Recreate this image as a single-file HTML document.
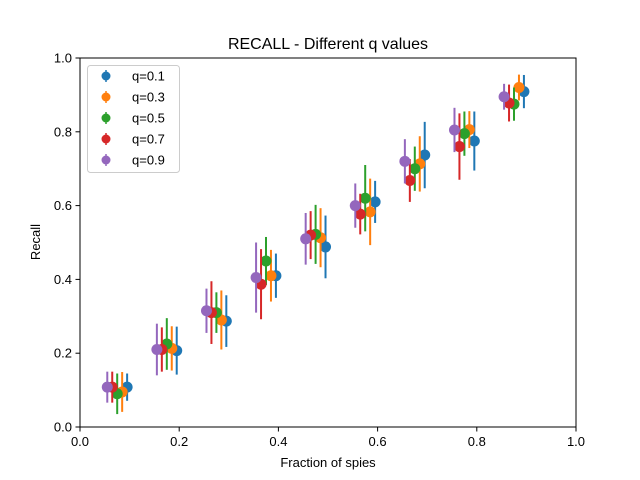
<!DOCTYPE html>
<html><head><meta charset="utf-8"><style>body{margin:0;background:#fff}svg{display:block;font-family:"Liberation Sans","DejaVu Sans",sans-serif}</style></head>
<body>
<svg id="chart" width="640" height="480">
<rect x="0" y="0" width="640" height="480" fill="#fff"/>
<text x="328" y="49" font-size="16" text-anchor="middle">RECALL - Different q values</text>
<g id="marks"></g>
<rect x="80" y="58" width="496" height="369" fill="none" stroke="#000" stroke-width="1"/>
<g id="axes"></g>
<text x="328" y="467" font-size="13" text-anchor="middle">Fraction of spies</text>
<text x="40" y="242" font-size="13" text-anchor="middle" transform="rotate(-90 40 242)">Recall</text>
<g id="legend"></g>
</svg>
<script>
const xGroups=[0.1,0.2,0.3,0.4,0.5,0.6,0.7,0.8,0.9];
const seriesNames=["q=0.1","q=0.3","q=0.5","q=0.7","q=0.9"];
const colors=["#1f77b4","#ff7f0e","#2ca02c","#d62728","#9467bd"];
const offsets=[-0.005,-0.015,-0.025,-0.035,-0.045];
const q1=[0.108,0.207,0.287,0.41,0.488,0.61,0.737,0.775,0.909];
const q1e=[0.037,0.065,0.07,0.06,0.085,0.057,0.09,0.08,0.045];
const q3=[0.095,0.213,0.29,0.41,0.513,0.583,0.713,0.806,0.92];
const q3e=[0.054,0.06,0.08,0.07,0.08,0.09,0.075,0.05,0.035];
const q5=[0.09,0.225,0.31,0.45,0.522,0.62,0.70,0.795,0.875];
const q5e=[0.055,0.07,0.055,0.065,0.08,0.09,0.06,0.06,0.045];
const q7=[0.108,0.21,0.31,0.387,0.52,0.577,0.668,0.76,0.878];
const q7e=[0.042,0.06,0.085,0.095,0.065,0.055,0.058,0.09,0.05];
const q9=[0.108,0.21,0.315,0.405,0.51,0.60,0.72,0.805,0.895];
const q9e=[0.042,0.07,0.06,0.095,0.07,0.06,0.06,0.06,0.035];
const xTicks=[0,0.2,0.4,0.6,0.8,1.0];
const xTickLabels=["0.0","0.2","0.4","0.6","0.8","1.0"];
const yTicks=[0,0.2,0.4,0.6,0.8,1.0];
const yTickLabels=["0.0","0.2","0.4","0.6","0.8","1.0"];
const values=[q1,q3,q5,q7,q9], errs=[q1e,q3e,q5e,q7e,q9e];
const NS="http://www.w3.org/2000/svg";
const X=v=>80+v*496, Y=v=>427-v*369;
function mk(tag,attrs,parent){const e=document.createElementNS(NS,tag);for(const k in attrs)e.setAttribute(k,attrs[k]);parent.appendChild(e);return e;}
const marks=document.getElementById('marks');
values.forEach((vals,s)=>{
  const g=mk('g',{},marks);
  
  
  vals.forEach((v,i)=>{
    const x=X(xGroups[i]+offsets[s]);
    const l=mk('line',{x1:x,x2:x,y1:Y(v-errs[s][i]),y2:Y(v+errs[s][i]),stroke:colors[s],'stroke-width':2},g);
    
    
    const c=mk('circle',{cx:x,cy:Y(v),r:5.5,fill:colors[s]},g);
    
    
  });
});
const axes=document.getElementById('axes');
xTicks.forEach((t,i)=>{
  const tl=mk('line',{x1:X(t),x2:X(t),y1:427,y2:431.5,stroke:'#000'},axes);
  
  
  const tx=mk('text',{x:X(t),y:446,'font-size':13,'text-anchor':'middle'},axes);
  tx.textContent=xTickLabels[i];
  
  
});
yTicks.forEach((t,i)=>{
  const tl=mk('line',{x1:75.5,x2:80,y1:Y(t),y2:Y(t),stroke:'#000'},axes);
  
  
  const tx=mk('text',{x:72,y:Y(t)+4.5,'font-size':13,'text-anchor':'end'},axes);
  tx.textContent=yTickLabels[i];
  
  
});
const lg=document.getElementById('legend');
mk('rect',{x:87.5,y:65.5,width:92,height:107,rx:3,fill:'#fff','fill-opacity':0.8,stroke:'#ccc'},lg);
seriesNames.forEach((n,s)=>{
  const y=76+s*21;
  const e=mk('g',{},lg);
  
  
  mk('line',{x1:106,x2:106,y1:y-6,y2:y+6,stroke:colors[s],'stroke-width':1.5},e);
  mk('circle',{cx:106,cy:y,r:4.5,fill:colors[s]},e);
  const t=mk('text',{x:132,y:y+4.5,'font-size':13},e);
  t.textContent=n;
});
</script>
</body></html>
